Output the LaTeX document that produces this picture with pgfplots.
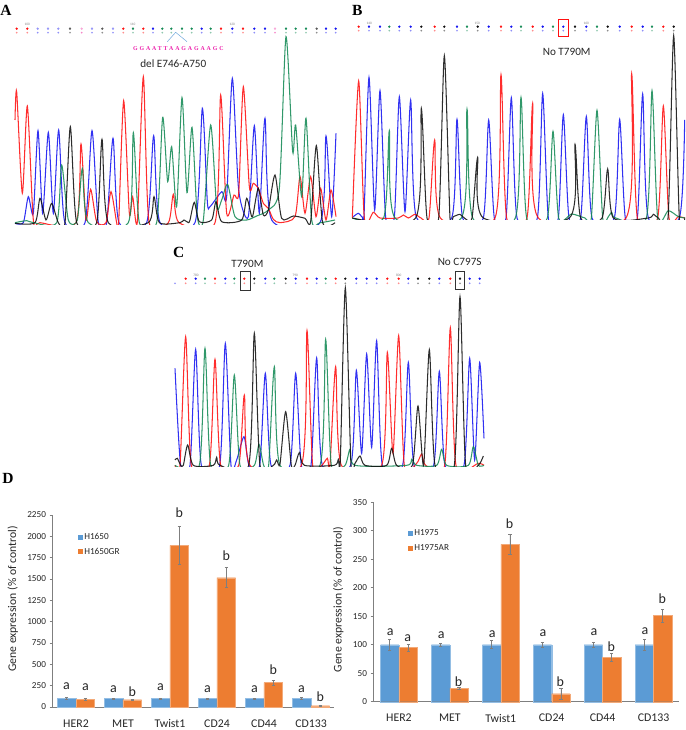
\documentclass[border=0pt]{standalone}
\usepackage{pgfplots}
\usepackage{fontspec}
\pgfplotsset{compat=1.18}
\setmainfont{Carlito}
\newfontfamily\serifb{Liberation Serif Bold}
\newfontfamily\seqf[LetterSpace=32]{Liberation Serif Bold}
\definecolor{cred}{HTML}{FF1010}
\definecolor{cblue}{HTML}{1414F0}
\definecolor{cgreen}{HTML}{148A55}
\definecolor{cblack}{HTML}{101010}
\definecolor{barb}{HTML}{5B9BD5}
\definecolor{baro}{HTML}{ED7D31}
\definecolor{txt}{HTML}{262626}
\definecolor{ax}{HTML}{7F7F7F}
\definecolor{caret}{HTML}{6FA8DC}
\definecolor{seqpink}{HTML}{EC1EAA}
\tikzset{ylab/.style={font=\fontsize{11.7}{12}\selectfont,text=txt}}
\pgfplotsset{
 chrom/.style={hide axis,scale only axis,enlargelimits=false,y dir=reverse,no markers,ymin=0,clip=true},
 tr/.style={smooth,tension=0.42,line width=1.05pt,opacity=0.88},
 bm/.style={only marks,mark=square*,mark size=0.95pt,mark options={draw=none}},
 bp/.style={only marks,mark=square*,mark size=0.75pt,opacity=0.3,mark options={draw=none}},
 barax/.style={scale only axis,enlargelimits=false,clip=false,
  axis x line*=bottom,axis y line*=left,axis line style={ax,-,line width=0.7pt},
  xmin=-0.5,xmax=5.5,xtick={0,1,2,3,4,5},
  xticklabels={HER2,MET,Twist1,CD24,CD44,CD133},
  x tick label style={font=\fontsize{11.8}{12}\selectfont,text=txt,yshift=-6pt},
  y tick label style={font=\fontsize{9.2}{10}\selectfont,text=txt},
  /pgf/number format/assume math mode=true,/pgf/number format/set thousands separator={},
  xtick style={draw=none},ytick style={ax,line width=0.6pt},tick align=outside,major tick length=3pt,
  ytick pos=left,xtick pos=bottom,
  ybar=0pt,
  legend image code/.code={\path[##1,draw=none] (0pt,-2.5pt) rectangle (5.2pt,2.5pt);},
  legend cell align=left,
  legend style={draw=none,fill=none,font=\fontsize{9.2}{10}\selectfont\color{txt},inner sep=0pt,
    nodes={inner sep=0pt,inner xsep=1.2pt},/tikz/column 2/.style={column sep=0pt}},
 },
 eb/.style={error bars/.cd,y dir=both,y explicit,error bar style={ax,line width=0.7pt},error mark options={rotate=90,mark size=1.6pt,ax,line width=0.6pt}},
}
\newcommand{\lab}[3]{\node[font=\fontsize{14}{14}\selectfont,text=txt,inner sep=0pt] at (axis cs:#1,#2) {#3};}
\begin{document}
\begin{tikzpicture}[x=1pt,y=1pt]
\path[use as bounding box] (0pt,0pt) rectangle (685pt,730pt);

%%%%% Panel A
\begin{axis}[chrom,at={(0pt,730pt)},anchor=north west,width=345pt,height=224.33pt,xmin=0,xmax=1035,ymax=673]
\addplot[tr,cblue] coordinates {(45,670)(70,668)(85,590)(100,640)(114,392)(128,640)(145,397)(160,640)(176,390)(194,665)(255,668)(276,392)(295,668)(320,668)(339,415)(357,668)(440,668)(461,407)(480,668)(585,668)(607,325)(622,605)(630,620)(665,575)(680,590)(697,235)(716,570)(745,650)(763,377)(778,640)(795,355)(815,660)(960,668)(978,408)(995,650)(1008,400)};
\addplot[tr,cred] coordinates {(45,360)(50,275)(67,580)(82,318)(100,660)(120,668)(228,668)(243,432)(258,660)(272,568)(290,665)(318,668)(333,575)(350,668)(356,668)(371,302)(388,640)(398,590)(412,665)(430,230)(447,665)(505,668)(520,583)(537,668)(645,668)(662,285)(680,640)(702,585)(716,580)(730,260)(748,560)(760,550)(775,565)(790,610)(805,625)(820,658)(840,668)(885,650)(900,530)(915,640)(932,530)(948,650)(962,565)(978,660)(993,570)(1008,650)};
\addplot[tr,cgreen] coordinates {(45,668)(80,662)(100,668)(170,668)(185,495)(205,660)(232,660)(247,505)(265,668)(385,668)(400,398)(418,668)(470,668)(488,352)(503,545)(515,440)(530,620)(546,293)(561,578)(576,382)(592,650)(610,660)(632,375)(650,620)(665,600)(683,553)(705,650)(740,660)(770,648)(805,630)(838,565)(858,110)(878,455)(887,375)(905,590)(918,355)(935,660)(960,668)(1005,660)};
\addplot[tr,cblack] coordinates {(45,670)(105,668)(120,595)(138,660)(155,610)(175,668)(195,668)(211,380)(230,668)(290,668)(306,418)(325,668)(445,668)(462,590)(478,668)(540,668)(552,660)(565,668)(570,660)(583,607)(598,665)(635,660)(648,605)(665,665)(725,660)(740,595)(755,650)(760,640)(775,565)(790,645)(805,630)(825,525)(845,655)(880,648)(915,655)(932,665)(949,437)(968,668)(1005,668)};
% called bases
\addplot[bm,cred] coordinates {(50,86)(82,86)(370,86)(430,86)(663,86)(729,86)};
\addplot[bm,cblue] coordinates {(459,86)(605,86)(697,86)(763,86)(795,86)(978,86)(1007,86)};
\addplot[bm,cblue!45] coordinates {(113,86)(144,86)(175,86)(276,86)(339,86)};
\addplot[bm,cgreen] coordinates {(399,86)(487,86)(514,86)(546,86)(575,86)(632,86)(858,86)(887,86)(918,86)};
\addplot[bm,cblack!70] coordinates {(210,86)(307,86)(950,86)};
\addplot[bm,magenta!35] coordinates {(245,86)(825,86)};
\addplot[bp,cred] coordinates {(50,98)(82,98)(370,98)(430,98)(663,98)(729,98)};
\addplot[bp,cblue] coordinates {(113,98)(144,98)(175,98)(276,98)(339,98)(459,98)(605,98)(697,98)(763,98)(795,98)(978,98)(1007,98)};
\addplot[bp,cgreen] coordinates {(399,98)(487,98)(514,98)(546,98)(575,98)(632,98)(858,98)(887,98)(918,98)};
\addplot[bp,cblack] coordinates {(210,98)(307,98)(950,98)};
\addplot[bp,magenta] coordinates {(245,98)(825,98)};
\node[font=\fontsize{3.5}{4}\selectfont,text=gray] at (axis cs:82,73) {100};
\node[font=\fontsize{3.5}{4}\selectfont,text=gray] at (axis cs:398,73) {110};
\node[font=\fontsize{3.5}{4}\selectfont,text=gray] at (axis cs:697,73) {120};
\draw[caret,line width=0.5pt] (axis cs:502,125)--(axis cs:527,97)--(axis cs:561,125);
\node[font=\seqf\fontsize{5.9}{7}\selectfont,text=seqpink,inner sep=0pt] at (axis cs:535,146) {GGAATTAAGAGAAGC};
\node[font=\fontsize{11.2}{12}\selectfont,text=txt,inner sep=0pt] at (axis cs:520,190) {del E746-A750};
\node[font=\serifb\fontsize{15.5}{16}\selectfont,inner sep=0pt] at (axis cs:18,30) {A};
\end{axis}

%%%%% Panel B
\begin{axis}[chrom,at={(345pt,730pt)},anchor=north west,width=340pt,height=219.33pt,xmin=0,xmax=1020,ymax=658]
\addplot[tr,cblue] coordinates {(25,650)(40,640)(52,652)(57,650)(72,232)(89,630)(105,272)(122,652)(148,652)(163,290)(180,635)(197,300)(214,652)(320,654)(336,358)(353,654)(415,654)(431,360)(448,654)(483,654)(499,293)(516,654)(577,654)(593,280)(610,654)(640,654)(655,344)(672,654)(707,654)(724,349)(741,654)(808,654)(824,358)(841,654)(877,654)(893,282)(910,654)(1003,654)(1019,360)};
\addplot[tr,cred] coordinates {(22,654)(41,243)(58,654)(85,637)(105,654)(160,654)(175,645)(190,654)(210,643)(228,654)(252,654)(269,420)(286,654)(450,654)(468,224)(485,654)(546,654)(563,310)(580,654)(843,654)(860,221)(877,654)(938,654)(955,318)(972,654)(1000,650)(1020,654)};
\addplot[tr,cgreen] coordinates {(22,654)(116,654)(133,392)(150,654)(349,654)(366,327)(383,654)(511,654)(528,292)(545,654)(607,654)(624,394)(641,654)(680,642)(720,654)(739,654)(756,331)(773,654)(790,650)(800,637)(812,654)(904,654)(921,272)(938,654)(970,632)(1000,650)(1020,654)};
\addplot[tr,cblack] coordinates {(22,654)(212,654)(229,325)(246,654)(281,654)(298,167)(315,654)(325,650)(345,643)(358,654)(381,654)(398,472)(415,654)(673,654)(690,433)(707,654)(771,654)(788,507)(805,654)(910,654)(925,643)(940,654)(969,654)(986,107)(1003,654)(1020,654)};
\addplot[bm,cred] coordinates {(41,80)(269,80)(468,80)(563,80)(860,80)(955,80)};
\addplot[bm,cblue] coordinates {(72,80)(105,80)(163,80)(197,80)(336,80)(431,80)(499,80)(593,80)(655,80)(724,80)(824,80)(893,80)};
\addplot[bm,cgreen] coordinates {(133,80)(366,80)(528,80)(624,80)(756,80)(921,80)};
\addplot[bm,cblack] coordinates {(229,80)(298,80)(398,80)(690,80)(788,80)(986,80)};
\addplot[bp,cred] coordinates {(41,92)(269,92)(468,92)(563,92)(860,92)(955,92)};
\addplot[bp,cblue] coordinates {(72,92)(105,92)(163,92)(197,92)(336,92)(431,92)(499,92)(593,92)(655,92)(724,92)(824,92)(893,92)};
\addplot[bp,cgreen] coordinates {(133,92)(366,92)(528,92)(624,92)(756,92)(921,92)};
\addplot[bp,cblack] coordinates {(229,92)(298,92)(398,92)(690,92)(788,92)(986,92)};
\node[font=\fontsize{3.5}{4}\selectfont,text=gray] at (axis cs:73,70) {140};
\node[font=\fontsize{3.5}{4}\selectfont,text=gray] at (axis cs:397,70) {150};
\node[font=\fontsize{3.5}{4}\selectfont,text=gray] at (axis cs:724,70) {160};
\draw[cred,line width=0.8pt] (axis cs:640,58) rectangle (axis cs:670,110);
\node[font=\fontsize{11.2}{12}\selectfont,text=txt,inner sep=0pt] at (axis cs:665,155) {No T790M};
\node[font=\serifb\fontsize{15.5}{16}\selectfont,inner sep=0pt] at (axis cs:37,30) {B};
\end{axis}

%%%%% Panel C
\begin{axis}[chrom,at={(165pt,490pt)},anchor=north west,width=330pt,height=227pt,xmin=0,xmax=990,ymax=681]
\addplot[tr,cblue] coordinates {(30,385)(47,676)(75,676)(92,328)(109,676)(164,676)(181,310)(198,676)(215,660)(237,590)(252,676)(284,676)(301,400)(318,676)(375,676)(392,400)(409,676)(438,676)(455,354)(472,676)(557,676)(574,391)(590,640)(605,342)(620,622)(635,302)(652,676)(713,676)(730,367)(747,676)(806,676)(823,394)(840,676)(897,676)(914,355)(929,660)(944,367)(957,595)};
\addplot[tr,cred] coordinates {(30,676)(45,676)(62,290)(79,676)(133,676)(150,358)(167,676)(221,676)(238,465)(255,676)(409,676)(426,272)(443,676)(470,676)(487,655)(495,676)(512,380)(529,676)(650,676)(667,337)(684,640)(701,287)(718,676)(755,670)(770,642)(782,676)(839,676)(856,263)(873,676)(940,670)(957,676)};
\addplot[tr,cgreen] coordinates {(30,676)(103,676)(120,325)(137,676)(191,676)(208,405)(225,676)(268,676)(282,613)(296,676)(311,676)(328,380)(345,676)(465,676)(482,298)(499,676)(540,676)(555,628)(570,676)(725,676)(740,658)(755,676)(815,676)(830,628)(845,676)(910,676)(925,620)(940,676)(957,676)};
\addplot[tr,cblack] coordinates {(30,660)(37,655)(47,676)(55,676)(68,615)(85,676)(145,676)(155,652)(165,676)(251,676)(268,280)(285,676)(325,676)(335,660)(345,672)(362,515)(379,676)(390,676)(403,638)(418,676)(508,676)(520,658)(526,660)(541,143)(558,676)(570,670)(585,648)(600,676)(665,676)(680,625)(695,676)(742,676)(759,498)(776,676)(793,329)(810,676)(868,676)(885,170)(902,676)(940,676)(955,648)};
\addplot[bm,cred] coordinates {(62,116)(150,116)(238,116)(426,116)(512,116)(667,116)(701,116)(856,116)};
\addplot[bm,cblue] coordinates {(92,116)(181,116)(301,116)(392,116)(455,116)(574,116)(605,116)(635,116)(730,116)(823,116)(914,116)(944,116)};
\addplot[bm,cgreen] coordinates {(120,116)(208,116)(328,116)(482,116)};
\addplot[bm,cblack] coordinates {(268,116)(362,116)(541,116)(759,116)(793,116)(885,116)};
\addplot[bp,cred] coordinates {(62,130)(150,130)(238,130)(426,130)(512,130)(667,130)(701,130)(856,130)};
\addplot[bp,cblue] coordinates {(30,130)(92,130)(181,130)(301,130)(392,130)(455,130)(574,130)(605,130)(635,130)(730,130)(823,130)(914,130)(944,130)};
\addplot[bp,cgreen] coordinates {(120,130)(208,130)(328,130)(482,130)};
\addplot[bp,cblack] coordinates {(268,130)(362,130)(541,130)(759,130)(793,130)(885,130)};
\node[font=\fontsize{3.5}{4}\selectfont,text=gray] at (axis cs:93,106) {780};
\node[font=\fontsize{3.5}{4}\selectfont,text=gray] at (axis cs:391,106) {790};
\node[font=\fontsize{3.5}{4}\selectfont,text=gray] at (axis cs:701,106) {800};
\draw[black!80,line width=0.9pt] (axis cs:225,93) rectangle (axis cs:257,151);
\draw[black!80,line width=0.9pt] (axis cs:872,93) rectangle (axis cs:898,148);
\node[font=\fontsize{11.2}{12}\selectfont,text=txt,inner sep=0pt] at (axis cs:247,73) {T790M};
\node[font=\fontsize{11.2}{12}\selectfont,text=txt,inner sep=0pt] at (axis cs:884,65) {No C797S};
\node[font=\serifb\fontsize{15.5}{16}\selectfont,inner sep=0pt] at (axis cs:41,37) {C};
\end{axis}

\node[font=\serifb\fontsize{15.5}{16}\selectfont,inner sep=0pt] at (8pt,252pt) {D};

%%%%% Panel D left
\begin{axis}[barax,at={(52.5pt,23pt)},anchor=south west,width=282pt,height=192pt,
  ymin=0,ymax=2250,ytick={0,250,500,750,1000,1250,1500,1750,2000,2250},
  bar width=18.6pt,
  ylabel={Gene expression (\% of control)},
  ylabel style={ylab,at={(axis description cs:-0.141,0.5625)},anchor=center},
  legend style={at={(axis description cs:0.0895,0.905)},anchor=north west,row sep=6.8pt}]
\addplot[fill=barb,draw=barb!65,line width=0.4pt,eb] coordinates {(0,100)+-(0,15) (1,100)+-(0,5) (2,100)+-(0,6) (3,100)+-(0,5) (4,100)+-(0,7) (5,100)+-(0,8)};
\addplot[fill=baro,draw=baro!65,line width=0.4pt,eb] coordinates {(0,90)+-(0,15) (1,85)+-(0,10) (2,1895)+-(0,225) (3,1515)+-(0,117) (4,285)+-(0,30) (5,15)+-(0,10)};
\legend{H1650,H1650GR}
\lab{-0.2}{240}{a}\lab{0.2}{232}{a}\lab{0.8}{210}{a}\lab{1.2}{176}{b}
\lab{1.8}{232}{a}\lab{2.2}{2277}{b}\lab{2.8}{210}{a}\lab{3.2}{1770}{b}
\lab{3.8}{210}{a}\lab{4.2}{434}{b}\lab{4.8}{210}{a}\lab{5.2}{120}{b}
\end{axis}

%%%%% Panel D right
\begin{axis}[barax,at={(373.5pt,28.3pt)},anchor=south west,width=305.5pt,height=199.4pt,
  ymin=0,ymax=350,ytick={0,50,100,150,200,250,300,350},
  bar width=18.4pt,
  ylabel={Gene expression (\% of control)},
  ylabel style={ylab,at={(axis description cs:-0.115,0.5125)},anchor=center},
  legend style={at={(axis description cs:0.112,0.8635)},anchor=north west,row sep=7.8pt}]
\addplot[fill=barb,draw=barb!65,line width=0.4pt,eb] coordinates {(0,100)+-(0,10) (1,100)+-(0,3) (2,100)+-(0,7) (3,100)+-(0,5) (4,100)+-(0,5) (5,100)+-(0,10)};
\addplot[fill=baro,draw=baro!65,line width=0.4pt,eb] coordinates {(0,95)+-(0,6) (1,24)+-(0,2) (2,276)+-(0,18) (3,14)+-(0,10) (4,78)+-(0,7) (5,151)+-(0,11)};
\legend{H1975,H1975AR}
\lab{-0.17}{122}{a}\lab{0.17}{111}{a}\lab{0.83}{117}{a}\lab{1.17}{36}{b}
\lab{1.83}{119}{a}\lab{2.17}{312}{b}\lab{2.83}{120}{a}\lab{3.17}{35}{b}
\lab{3.83}{122}{a}\lab{4.17}{97}{b}\lab{4.83}{124}{a}\lab{5.17}{180}{b}
\end{axis}
\end{tikzpicture}
\end{document}
